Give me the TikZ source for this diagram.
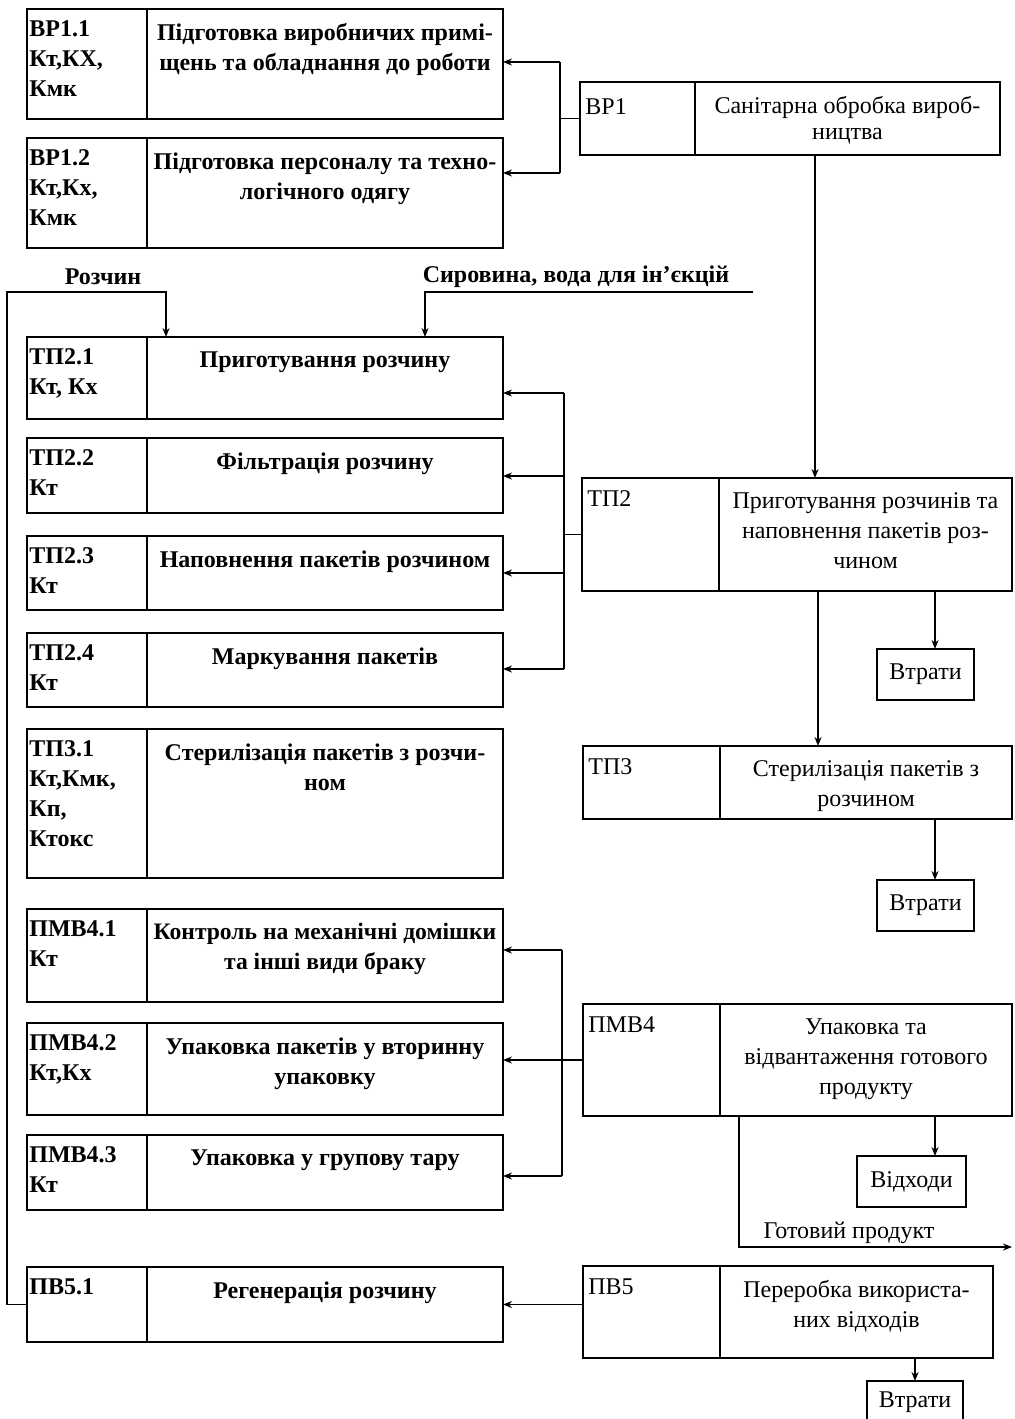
\documentclass[tikz,border=0pt]{standalone}
\usepackage{fontspec}
\setmainfont{Liberation Serif}
\usetikzlibrary{arrows.meta,calc}
\newcommand\mkcell[5]{%
  \pgfmathsetmacro\mcw{(#4-#2)*0.5}%
  \pgfmathsetmacro\mch{(#5-#3)*0.5}%
  \node[cell, anchor=north west, minimum width=\mcw pt, minimum height=\mch pt] (#1) at (#2,#3) {};}
\tikzset{
  cell/.style={draw, line width=1.2pt, inner sep=0pt, outer sep=0pt},
  ltxt/.style={anchor=north, yshift=-7pt, align=center, inner sep=0pt, font=\fontsize{12}{15}\selectfont\bfseries},
  rtxt/.style={anchor=north, yshift=-7pt, align=center, inner sep=0pt, font=\fontsize{12}{15}\selectfont},
  lcode/.style={anchor=north west, xshift=1pt, yshift=-5.5pt, align=left, inner sep=0pt, font=\fontsize{12}{15}\selectfont\bfseries},
  rcode/.style={anchor=north west, xshift=2.5pt, yshift=-6pt, align=left, inner sep=0pt, font=\fontsize{12}{15}\selectfont},
  smalltxt/.style={inner sep=0pt, font=\fontsize{12}{15}\selectfont},
  conn/.style={line width=0.9pt},
  arr/.style={line width=0.9pt, -{Stealth[length=4.5pt,width=3.5pt]}},
}
\begin{document}
\begin{tikzpicture}[x=0.5pt,y=-0.5pt]
\clip (0,0) rectangle (1014,1419);
\fill[white] (0,0) rectangle (1014,1419);
% ---------- left column ----------
\mkcell{bp11c}{27}{9}{147}{119}\mkcell{bp11}{147}{9}{503}{119}
\mkcell{bp12c}{27}{138}{147}{248}\mkcell{bp12}{147}{138}{503}{248}
\mkcell{tp21c}{27}{337}{147}{419}\mkcell{tp21}{147}{337}{503}{419}
\mkcell{tp22c}{27}{438}{147}{513}\mkcell{tp22}{147}{438}{503}{513}
\mkcell{tp23c}{27}{536}{147}{610}\mkcell{tp23}{147}{536}{503}{610}
\mkcell{tp24c}{27}{633}{147}{707}\mkcell{tp24}{147}{633}{503}{707}
\mkcell{tp31c}{27}{729}{147}{878}\mkcell{tp31}{147}{729}{503}{878}
\mkcell{pmv41c}{27}{909}{147}{1002}\mkcell{pmv41}{147}{909}{503}{1002}
\mkcell{pmv42c}{27}{1023}{147}{1115}\mkcell{pmv42}{147}{1023}{503}{1115}
\mkcell{pmv43c}{27}{1135}{147}{1210}\mkcell{pmv43}{147}{1135}{503}{1210}
\mkcell{pv51c}{27}{1267}{147}{1342}\mkcell{pv51}{147}{1267}{503}{1342}

\node[lcode] (bp11ct) at (bp11c.north west) {ВР1.1\\Кт,КХ,\\Кмк};
\node[ltxt] (bp11t) at (bp11.north) {Підготовка виробничих примі-\\щень та обладнання до роботи};
\node[lcode] (bp12ct) at (bp12c.north west) {ВР1.2\\Кт,Кх,\\Кмк};
\node[ltxt] (bp12t) at (bp12.north) {Підготовка персоналу та техно-\\логічного одягу};
\node[lcode] (tp21ct) at (tp21c.north west) {ТП2.1\\Кт, Кх};
\node[ltxt] (tp21t) at (tp21.north) {Приготування розчину};
\node[lcode] (tp22ct) at (tp22c.north west) {ТП2.2\\Кт};
\node[ltxt] (tp22t) at (tp22.north) {Фільтрація розчину};
\node[lcode] (tp23ct) at (tp23c.north west) {ТП2.3\\Кт};
\node[ltxt] (tp23t) at (tp23.north) {Наповнення пакетів розчином};
\node[lcode] (tp24ct) at (tp24c.north west) {ТП2.4\\Кт};
\node[ltxt] (tp24t) at (tp24.north) {Маркування пакетів};
\node[lcode] (tp31ct) at (tp31c.north west) {ТП3.1\\Кт,Кмк,\\Кп,\\Ктокс};
\node[ltxt] (tp31t) at (tp31.north) {Стерилізація пакетів з розчи-\\ном};
\node[lcode] (pmv41ct) at (pmv41c.north west) {ПМВ4.1\\Кт};
\node[ltxt, font=\fontsize{11.8}{15}\selectfont\bfseries] (pmv41t) at (pmv41.north) {Контроль на механічні домішки\\та інші види браку};
\node[lcode] (pmv42ct) at (pmv42c.north west) {ПМВ4.2\\Кт,Кх};
\node[ltxt] (pmv42t) at (pmv42.north) {Упаковка пакетів у вторинну\\упаковку};
\node[lcode] (pmv43ct) at (pmv43c.north west) {ПМВ4.3\\Кт};
\node[ltxt] (pmv43t) at (pmv43.north) {Упаковка у групову тару};
\node[lcode] (pv51ct) at (pv51c.north west) {ПВ5.1};
\node[ltxt] (pv51t) at (pv51.north) {Регенерація розчину};

% ---------- right column ----------
\mkcell{bp1c}{580}{82}{695}{155}\mkcell{bp1}{695}{82}{1000}{155}
\mkcell{tp2c}{582}{478}{719}{591}\mkcell{tp2}{719}{478}{1012}{591}
\mkcell{tp3c}{583}{746}{720}{819}\mkcell{tp3}{720}{746}{1012}{819}
\mkcell{pmv4c}{583}{1004}{720}{1116}\mkcell{pmv4}{720}{1004}{1012}{1116}
\mkcell{pv5c}{583}{1266}{720}{1358}\mkcell{pv5}{720}{1266}{993}{1358}

\node[rcode, yshift=-2pt] (bp1ct) at (bp1c.north west) {ВР1};
\node[rtxt, font=\fontsize{12}{13}\selectfont] (bp1t) at (bp1.north) {Санітарна обробка вироб-\\ництва};
\node[rcode] (tp2ct) at (tp2c.north west) {ТП2};
\node[rtxt] (tp2t) at (tp2.north) {Приготування розчинів та\\наповнення пакетів роз-\\чином};
\node[rcode] (tp3ct) at (tp3c.north west) {ТП3};
\node[rtxt] (tp3t) at (tp3.north) {Стерилізація пакетів з\\розчином};
\node[rcode] (pmv4ct) at (pmv4c.north west) {ПМВ4};
\node[rtxt] (pmv4t) at (pmv4.north) {Упаковка та\\відвантаження готового\\продукту};
\node[rcode] (pv5ct) at (pv5c.north west) {ПВ5};
\node[rtxt] (pv5t) at (pv5.north) {Переробка використа-\\них відходів};

% ---------- small boxes ----------
\mkcell{loss1}{877}{649}{974}{700}
\mkcell{loss2}{877}{880}{974}{931}
\mkcell{waste}{857}{1156}{966}{1207}
\mkcell{loss3}{867}{1381}{963}{1440}
\node[smalltxt] (loss1t) at (loss1.center) {Втрати};
\node[smalltxt] (loss2t) at (loss2.center) {Втрати};
\node[smalltxt] (wastet) at (waste.center) {Відходи};
\node[smalltxt, anchor=north] (loss3t) at ([yshift=-5pt]loss3.north) {Втрати};

% ---------- labels ----------
\node[smalltxt, font=\fontsize{12}{15}\selectfont\bfseries] (lblsol) at (103,277) {Розчин};
\node[smalltxt, font=\fontsize{12}{15}\selectfont\bfseries] (lblraw) at (576,277) {Сировина, вода для ін’єкцій};
\node[smalltxt] (lblprod) at (849,1233) {Готовий продукт};

% ---------- connectors ----------
% ВР1 -> ВР1.1, ВР1.2
\coordinate (b1a) at (560,62);
\coordinate (b1b) at (560,173);
\draw[conn] (bp1c.west) -- (bp1c.west -| b1a);
\draw[conn] (b1a) -- (b1b);
\draw[arr] (b1a) -- (b1a -| bp11.east);
\draw[arr] (b1b) -- (b1b -| bp12.east);
% ТП2 -> ТП2.x
\coordinate (b2a) at (564,393);
\coordinate (b2b) at (564,476);
\coordinate (b2c) at (564,573);
\coordinate (b2d) at (564,669);
\draw[conn] (tp2c.west) -- (tp2c.west -| b2a);
\draw[conn] (b2a) -- (b2d);
\draw[arr] (b2a) -- (b2a -| tp21.east);
\draw[arr] (b2b) -- (b2b -| tp22.east);
\draw[arr] (b2c) -- (b2c -| tp23.east);
\draw[arr] (b2d) -- (b2d -| tp24.east);
% ПМВ4 -> ПМВ4.x
\coordinate (b4a) at (562,950);
\coordinate (b4c) at (562,1176);
\draw[conn] (b4a) -- (b4c);
\draw[arr] (pmv4c.west) -- (pmv4c.west -| pmv42.east);
\draw[arr] (b4a) -- (b4a -| pmv41.east);
\draw[arr] (b4c) -- (b4c -| pmv43.east);
% ПВ5 -> ПВ5.1
\draw[arr] (pv5c.west |- pv51.east) -- (pv51.east);
% vertical main flow
\coordinate (vx1) at (815,0);
\coordinate (vx2) at (818,0);
\coordinate (lx) at (935,0);
\draw[arr] (vx1 |- bp1.south) -- (vx1 |- tp2.north);
\draw[arr] (vx2 |- tp2.south) -- (vx2 |- tp3.north);
\draw[arr] (lx |- tp2.south) -- (lx |- loss1.north);
\draw[arr] (lx |- tp3.south) -- (lx |- loss2.north);
\draw[arr] (lx |- pmv4.south) -- (lx |- waste.north);
\draw[arr] (pv5.south -| loss3.north) -- (loss3.north);
% finished product
\coordinate (gp1) at (739,1247);
\coordinate (gp2) at (1012,1247);
\draw[arr] (gp1 |- pmv4.south) -- (gp1) -- (gp2);
% recycled solution loop
\coordinate (rA) at (7,292);
\coordinate (rB) at (166,292);
\draw[arr] (pv51c.west) -| (rA) -- (rB) -- (rB |- tp21.north);
% raw materials
\coordinate (sA) at (753,292);
\coordinate (sB) at (425,292);
\draw[arr] (sA) -- (sB) -- (sB |- tp21.north);
\end{tikzpicture}
\end{document}
